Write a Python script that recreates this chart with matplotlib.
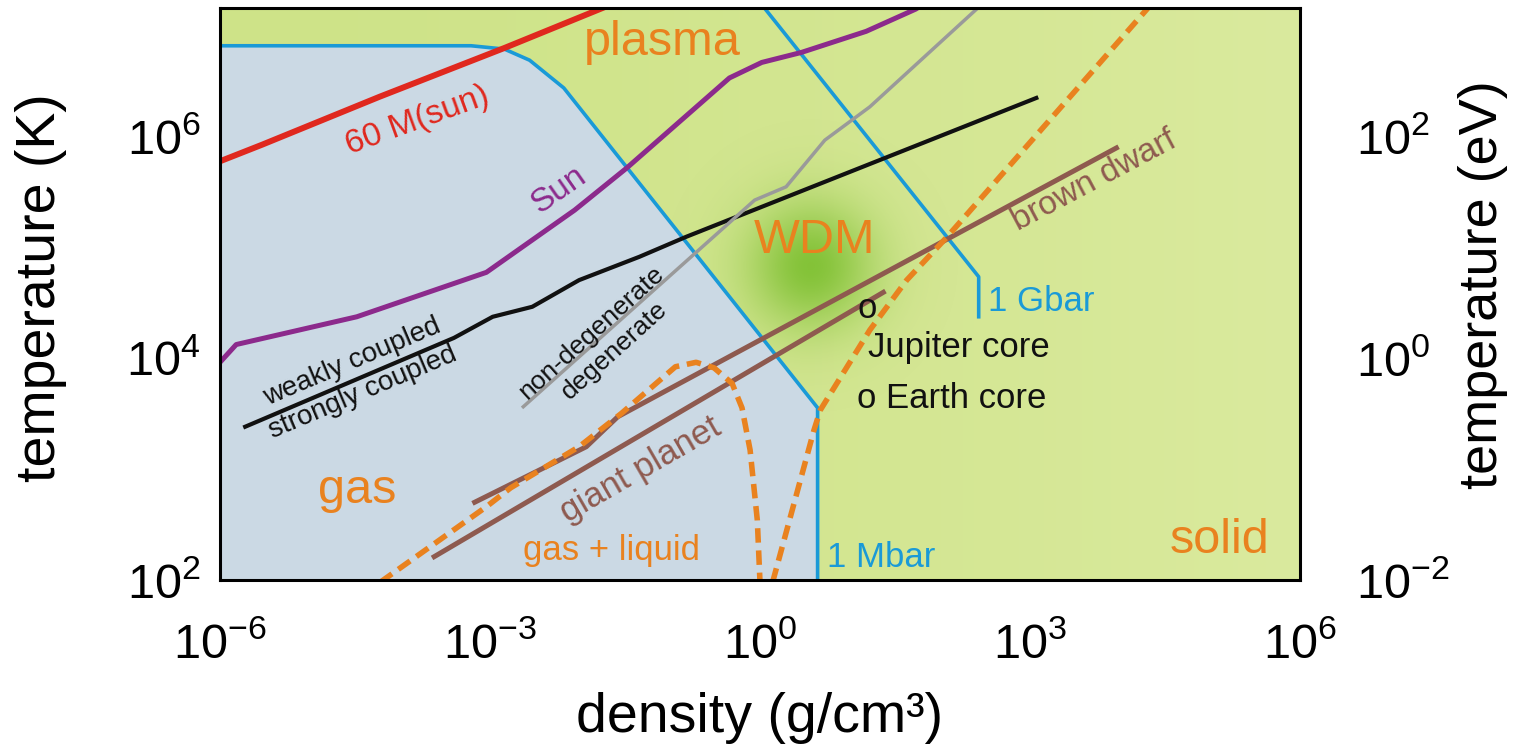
import matplotlib.pyplot as plt
import numpy as np
from matplotlib.ticker import FixedLocator, FuncFormatter

plt.rcParams['font.family'] = ['Liberation Sans', 'DejaVu Sans']
plt.rcParams['mathtext.fontset'] = 'custom'
plt.rcParams['mathtext.rm'] = 'Liberation Sans'
plt.rcParams['mathtext.it'] = 'Liberation Sans:italic'
plt.rcParams['mathtext.bf'] = 'Liberation Sans:bold'

# all curves as log10(density g/cm3), log10(temperature K)
mbar_lrho = [-6.0, -3.21, -2.84, -2.56, -2.18, 0.64, 0.64]
mbar_lT = [6.81, 6.81, 6.78, 6.68, 6.43, 3.55, 2.0]

gbar_lrho = [0.0, 2.43, 2.43]
gbar_lT = [7.2, 4.73, 4.37]

star60_lrho = [-6.0, -5.53, -4.23, -2.84, -1.78, -1.6]
star60_lT = [5.77, 5.92, 6.35, 6.79, 7.14, 7.2]

sun_lrho = [-6.0, -5.82, -4.48, -3.04, -2.06, -1.48, -0.34, 0.02, 0.46, 1.18, 1.73, 1.85]
sun_lT = [3.96, 4.12, 4.37, 4.77, 5.33, 5.71, 6.52, 6.66, 6.75, 6.94, 7.14, 7.2]

coupling_lrho = [-5.72, -3.40, -2.97, -2.53, -2.01, -1.34, -0.82, 3.07]
coupling_lT = [3.38, 4.18, 4.37, 4.46, 4.70, 4.91, 5.09, 6.34]

degen_lrho = [-2.63, -0.06, 0.29, 0.72, 1.22, 2.42, 2.47]
degen_lT = [3.56, 5.42, 5.54, 5.96, 6.26, 7.15, 7.2]

bdwarf_lrho = [-3.17, -1.93, -1.58, 3.96]
bdwarf_lT = [2.70, 3.20, 3.47, 5.89]

planet_lrho = [-3.62, 1.37]
planet_lT = [2.21, 4.59]

dome_lrho = [-4.22, -3.04, -2.77, -2.01, -1.54, -0.94, -0.71, -0.51, -0.31, -0.20, -0.11, -0.03, 0.0]
dome_lT = [1.98, 2.66, 2.83, 3.20, 3.50, 3.92, 3.96, 3.91, 3.77, 3.55, 3.17, 2.54, 1.98]

melt_lrho = [0.14, 0.60, 0.67, 1.22, 1.63, 2.08, 4.30, 4.36]
melt_lT = [1.98, 3.35, 3.53, 4.25, 4.70, 5.09, 7.14, 7.2]

xticks = [1e-6, 1e-3, 1e0, 1e3, 1e6]
yticks = [1e2, 1e4, 1e6]
eVticks = [1e-2, 1e0, 1e2]

ORANGE = '#E9821F'
BLUE = '#1A9AD7'
BROWN = '#8E5A4F'


def pts(lx, ly):
    return 10 ** np.array(lx), 10 ** np.array(ly)


fig = plt.figure(figsize=(15.13, 7.47), dpi=100)
ax = fig.add_axes([220 / 1513, 1 - 580 / 747, 1080 / 1513, 572 / 747])
ax.set_xscale('log')
ax.set_yscale('log')

# green background with a soft horizontal gradient
W, H = 540, 286
gx = np.linspace(0, 1, W)[None, :]
c0 = np.array([206, 227, 136]) / 255
c1 = np.array([218, 234, 158]) / 255
bg = c0[None, None, :] + (c1 - c0)[None, None, :] * (gx[..., None] ** 1.5)
bg = np.repeat(bg, H, axis=0)
ax.imshow(bg, extent=(0, 1, 0, 1), transform=ax.transAxes, aspect='auto',
          origin='lower', zorder=0, interpolation='bilinear')

# WDM glow
xx, yy = np.meshgrid(np.arange(W) * 2.0, np.arange(H) * 2.0)
cx, cy = 590.0, 313.0
r2 = (xx - cx) ** 2 + (yy - cy) ** 2
glow = np.zeros((H, W, 4))
glow[..., :3] = np.array([112, 186, 34]) / 255
glow[..., 3] = 0.8 * np.exp(-r2 / (2 * 45.0 ** 2))
ax.imshow(glow, extent=(0, 1, 0, 1), transform=ax.transAxes, aspect='auto',
          origin='lower', zorder=0.5, interpolation='bilinear')

# gas region
gxs, gys = pts(mbar_lrho + [-6.0], mbar_lT + [2.0])
ax.fill(gxs, gys, color='#CBD9E4', lw=0, zorder=1)

ax.plot(*pts(mbar_lrho, mbar_lT), color=BLUE, lw=2.6, zorder=3)
ax.plot(*pts(gbar_lrho, gbar_lT), color=BLUE, lw=2.6, zorder=3)
ax.plot(*pts(coupling_lrho, coupling_lT), color='#111111', lw=3.0, zorder=4)
ax.plot(*pts(degen_lrho, degen_lT), color='#9A9A9A', lw=2.5, zorder=5)
ax.plot(*pts(sun_lrho, sun_lT), color='#8C2A8C', lw=3.6, zorder=5)
ax.plot(*pts(star60_lrho, star60_lT), color='#E0281E', lw=4.3, zorder=5)
ax.plot(*pts(bdwarf_lrho, bdwarf_lT), color=BROWN, lw=3.6, zorder=6)
ax.plot(*pts(planet_lrho, planet_lT), color=BROWN, lw=3.6, zorder=6)
ax.plot(*pts(dome_lrho, dome_lT), color=ORANGE, lw=4.0, ls=(0, (2.6, 1.4)),
        zorder=7, dash_capstyle='butt')
ax.plot(*pts(melt_lrho, melt_lT), color=ORANGE, lw=4.0, ls=(0, (2.6, 1.4)),
        zorder=7, dash_capstyle='butt')

ax.set_xlim(1e-6, 1e6)
ax.set_ylim(1e2, 10 ** 7.15)


def txt(lx, ly, s, **kw):
    ax.text(10 ** lx, 10 ** ly, s, zorder=8, **kw)


# region labels
txt(-1.09, 6.84, 'plasma', color=ORANGE, fontsize=35, ha='center', va='center')
txt(0.61, 5.06, 'WDM', color=ORANGE, fontsize=35, ha='center', va='center')
txt(-4.48, 2.69, 'gas', color=ORANGE, fontsize=35, ha='center', va='baseline')
txt(5.11, 2.24, 'solid', color=ORANGE, fontsize=35, ha='center', va='baseline')
txt(-1.65, 2.18, 'gas + liquid', color=ORANGE, fontsize=25, ha='center', va='baseline')
txt(0.74, 2.12, '1 Mbar', color=BLUE, fontsize=25, ha='left', va='baseline')
txt(2.53, 4.42, '1 Gbar', color=BLUE, fontsize=25, ha='left', va='baseline')
txt(1.08, 4.36, 'o', color='#111111', fontsize=25, ha='left', va='baseline')
txt(1.20, 4.01, 'Jupiter core', color='#111111', fontsize=25, ha='left', va='baseline')
txt(1.08, 3.55, 'o Earth core', color='#111111', fontsize=25, ha='left', va='baseline')

# curve labels
rot = dict(ha='center', va='center', rotation_mode='anchor')
txt(-3.81, 6.14, '60 M(sun)', color='#E0281E', fontsize=24, rotation=20, **rot)
txt(-2.24, 5.51, 'Sun', color='#8C2A8C', fontsize=24, rotation=35, **rot)
txt(-4.53, 3.96, 'weakly coupled', color='#111111', fontsize=20, rotation=23, **rot)
txt(-4.41, 3.69, 'strongly coupled', color='#111111', fontsize=20, rotation=23, **rot)
txt(-1.87, 4.23, 'non-degenerate', color='#111111', fontsize=19, rotation=42, **rot)
txt(-1.62, 4.07, 'degenerate', color='#111111', fontsize=19, rotation=42, **rot)
txt(-1.33, 2.99, 'giant planet', color=BROWN, fontsize=25, rotation=30, **rot)
txt(3.71, 5.59, 'brown dwarf', color=BROWN, fontsize=24, rotation=28, **rot)


def sci(v, pos):
    return r'$\mathregular{10^{%d}}$' % int(round(np.log10(v)))


ax.xaxis.set_major_locator(FixedLocator(xticks))
ax.yaxis.set_major_locator(FixedLocator(yticks))
ax.xaxis.set_major_formatter(FuncFormatter(sci))
ax.yaxis.set_major_formatter(FuncFormatter(sci))
ax.minorticks_off()
ax.tick_params(axis='x', length=0, labelsize=35, pad=30)
ax.tick_params(axis='y', length=0, labelsize=35, pad=14)

sec = ax.secondary_yaxis('right', functions=(lambda t: t / 1e4, lambda e: e * 1e4))
sec.yaxis.set_major_locator(FixedLocator(eVticks))
sec.yaxis.set_major_formatter(FuncFormatter(sci))
sec.yaxis.set_minor_locator(FixedLocator([]))
sec.tick_params(axis='y', length=0, labelsize=35, pad=40)
sec.spines['right'].set_visible(False)

ax.set_xlabel('density (g/cm³)', fontsize=40)
ax.xaxis.label.set_va('center')
ax.xaxis.set_label_coords(0.5, -0.241)
ax.set_ylabel('temperature (K)', fontsize=40)
ax.yaxis.label.set_va('center')
ax.yaxis.set_label_coords(-0.166, 0.512)
sec.set_ylabel('temperature (eV)', fontsize=39)
sec.yaxis.label.set_va('center')
sec.yaxis.set_label_coords(1.169, 0.516, transform=ax.transAxes)

for sp in ax.spines.values():
    sp.set_linewidth(2.2)
    sp.set_zorder(10)

fig.savefig('out.png', dpi=100)
